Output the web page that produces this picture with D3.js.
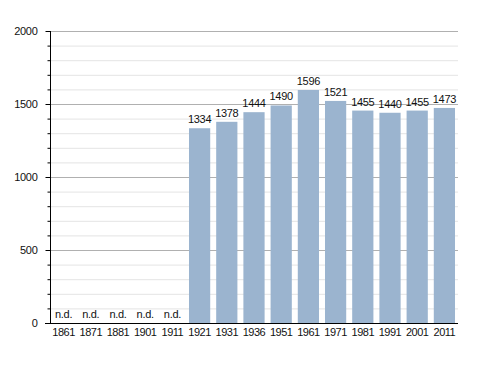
<!DOCTYPE html>
<html>
<head>
<meta charset="utf-8">
<script src="https://cdn.jsdelivr.net/npm/d3@7"></script>
<style>
  body { margin: 0; background: #fff; }
  text { font-family: "Liberation Sans", Arial, sans-serif; }
</style>
</head>
<body>
<div id="chart"></div>
<script>
const years = ["1861", "1871", "1881", "1901", "1911", "1921", "1931", "1936", "1951", "1961", "1971", "1981", "1991", "2001", "2011"]
const population = [null, null, null, null, null, 1334, 1378, 1444, 1490, 1596, 1521, 1455, 1440, 1455, 1473]
const majorTicks = [0, 500, 1000, 1500, 2000]
const minorTicks = d3.range(0, 2001, 100)

const width = 488
const height = 373
const margin = { top: 31, right: 30, bottom: 50, left: 50 }

const svg = d3.select("#chart")
  .append("svg")
  .attr("width", width)
  .attr("height", height)

const x = d3.scaleBand()
  .domain(years)
  .range([margin.left, width - margin.right])
  .paddingInner(0.22)
  .paddingOuter(0.11)

const y = d3.scaleLinear()
  .domain([0, 2000])
  .range([height - margin.bottom, margin.top])

// Minor gridlines
svg.append("g")
  .selectAll("line")
  .data(minorTicks.filter(d => d % 500 !== 0))
  .join("line")
  .attr("x1", margin.left).attr("x2", width - margin.right)
  .attr("y1", d => y(d) + 0.5).attr("y2", d => y(d) + 0.5)
  .attr("stroke", "#e4e4e4")
  .attr("stroke-width", 1)

// Major gridlines
svg.append("g")
  .selectAll("line")
  .data(majorTicks.filter(d => d > 0))
  .join("line")
  .attr("x1", margin.left).attr("x2", width - margin.right)
  .attr("y1", d => y(d) + 0.5).attr("y2", d => y(d) + 0.5)
  .attr("stroke", "#b0b0b0")
  .attr("stroke-width", 1)

// Bars
svg.append("g")
  .selectAll("rect")
  .data(years.map((year, i) => ({ year, value: population[i] })).filter(d => d.value !== null))
  .join("rect")
  .attr("x", d => x(d.year))
  .attr("y", d => y(d.value))
  .attr("width", x.bandwidth())
  .attr("height", d => y(0) - y(d.value))
  .attr("fill", "#9bb4cf")

// Value labels
svg.append("g")
  .selectAll("text")
  .data(years.map((year, i) => ({ year, value: population[i] })))
  .join("text")
  .attr("x", d => x(d.year) + x.bandwidth() / 2)
  .attr("y", d => d.value === null ? y(0) - 5 : y(d.value) - 5)
  .attr("text-anchor", "middle")
  .attr("font-size", "11px")
  .attr("letter-spacing", "-0.3px")
  .attr("fill", "#111")
  .text(d => d.value === null ? "n.d." : d.value)

// Y axis
const yAxis = svg.append("g")
  .attr("transform", `translate(${margin.left + 0.5},0)`)

yAxis.append("line")
  .attr("y1", y(2000)).attr("y2", y(0))
  .attr("stroke", "#000")

yAxis.selectAll(".minor")
  .data(minorTicks.filter(d => d % 500 !== 0))
  .join("line")
  .attr("class", "minor")
  .attr("x1", -3).attr("x2", 0)
  .attr("y1", d => y(d) + 0.5).attr("y2", d => y(d) + 0.5)
  .attr("stroke", "#000")

yAxis.selectAll(".major")
  .data(majorTicks)
  .join("line")
  .attr("class", "major")
  .attr("x1", -5).attr("x2", 0)
  .attr("y1", d => y(d) + 0.5).attr("y2", d => y(d) + 0.5)
  .attr("stroke", "#000")

yAxis.selectAll("text")
  .data(majorTicks)
  .join("text")
  .attr("x", -13)
  .attr("y", d => y(d))
  .attr("dy", "0.35em")
  .attr("text-anchor", "end")
  .attr("font-size", "11px")
  .attr("letter-spacing", "-0.3px")
  .attr("fill", "#111")
  .text(d => d)

// X axis
const xAxis = svg.append("g")
  .attr("transform", `translate(0,${y(0) + 0.5})`)

xAxis.append("line")
  .attr("x1", margin.left - 5).attr("x2", width - margin.right)
  .attr("stroke", "#000")

xAxis.selectAll("text")
  .data(years)
  .join("text")
  .attr("x", d => x(d) + x.bandwidth() / 2)
  .attr("y", 12)
  .attr("text-anchor", "middle")
  .attr("font-size", "11px")
  .attr("letter-spacing", "-0.5px")
  .attr("fill", "#111")
  .text(d => d)
</script>
</body>
</html>
